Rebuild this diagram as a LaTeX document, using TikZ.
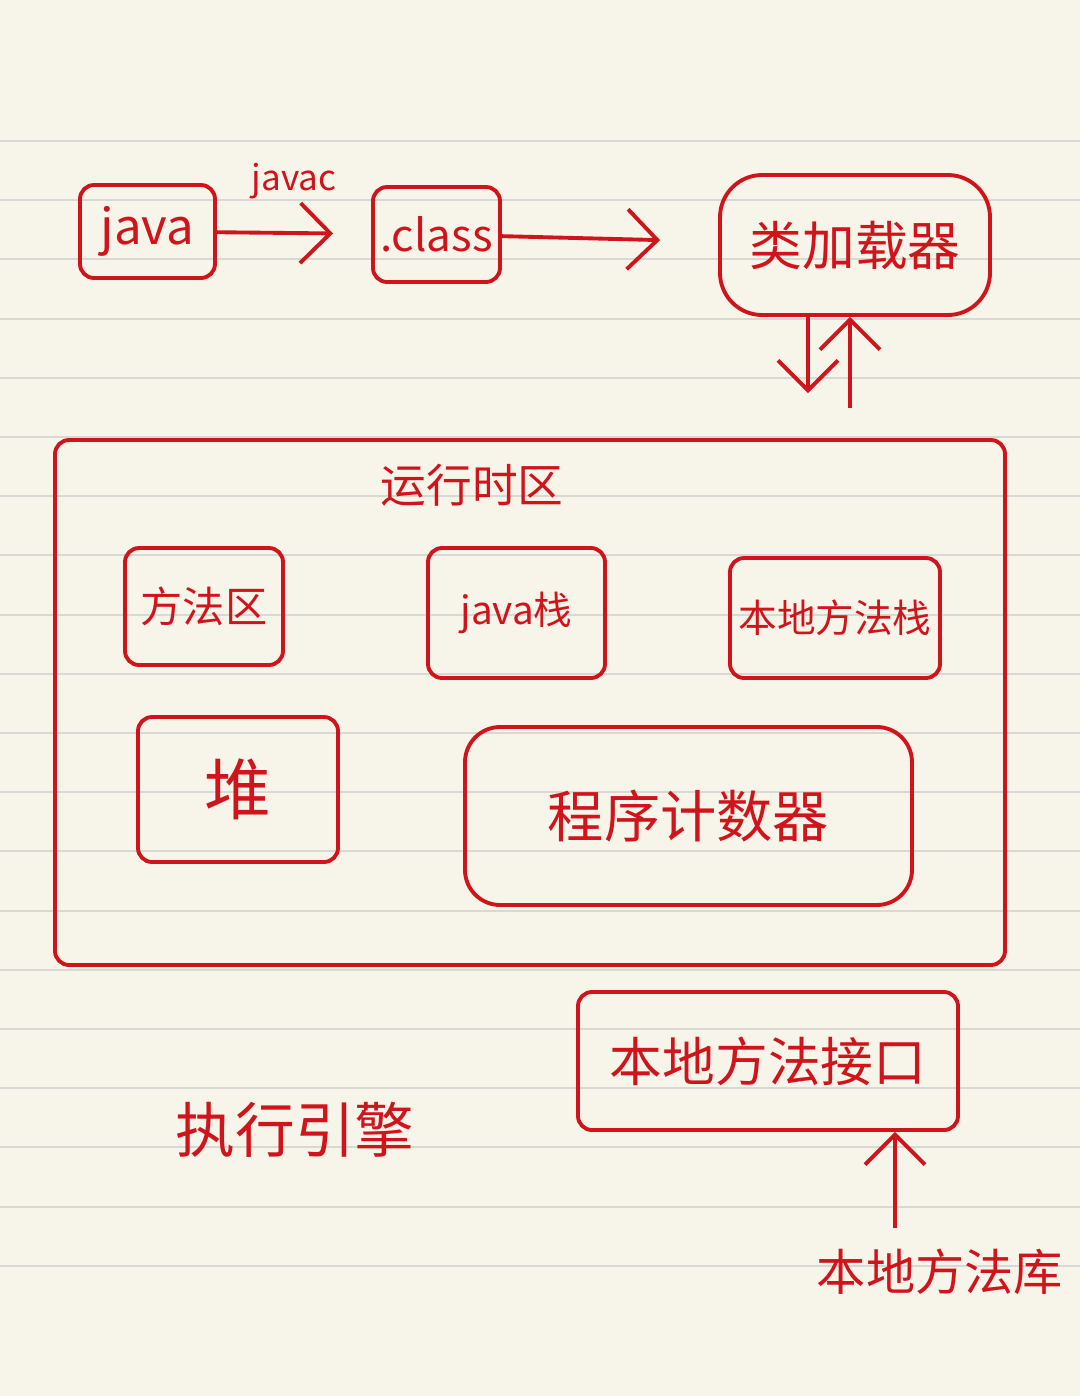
\documentclass[tikz,border=0pt]{standalone}
\usepackage{fontspec}
\setmainfont{Noto Sans CJK SC}
\usetikzlibrary{arrows.meta}

\definecolor{ink}{HTML}{D0141C}
\definecolor{paper}{HTML}{F7F4E9}
\definecolor{ruling}{HTML}{D8D8D4}

\begin{document}
\begin{tikzpicture}[
    box/.style={draw=ink,line width=1.1pt,rounded corners=4pt,text=ink,inner sep=0pt},
    txt/.style={text=ink,inner sep=0pt},
    flow/.style={draw=ink,line width=1.1pt,-{Straight Barb[length=3mm,width=6mm]}},
    fs/.style={font=\fontsize{#1}{#1}\selectfont}]
  \fill[paper] (0,0) rectangle (10.8,-13.96);
  \useasboundingbox (0,0) rectangle (10.8,-13.96);
  \foreach \k in {0,...,19}
    \draw[ruling,line width=0.6pt] (0,-1.41-0.592*\k) -- (10.8,-1.41-0.592*\k);

  \node[box,fs=14,minimum width=1.35cm,minimum height=0.93cm] (java) at (1.475,-2.315) {java};
  \node[box,fs=12.5,minimum width=1.27cm,minimum height=0.95cm] (class) at (4.365,-2.345) {.class};
  \node[box,fs=15,minimum width=2.7cm,minimum height=1.4cm,rounded corners=12pt] (loader) at (8.55,-2.45) {类加载器};

  \node[box,minimum width=9.5cm,minimum height=5.25cm] (runtime) at (5.30,-7.025) {};
  \node[txt,fs=13] (rtlabel) at (4.72,-4.85) {运行时区};
  \node[box,fs=12,minimum width=1.58cm,minimum height=1.17cm] (method) at (2.04,-6.065) {方法区};
  \node[box,fs=11,minimum width=1.77cm,minimum height=1.3cm] (jstack) at (5.165,-6.13) {java栈};
  \node[box,fs=11,minimum width=2.1cm,minimum height=1.2cm] (nstack) at (8.35,-6.18) {本地方法栈};
  \node[box,fs=19,minimum width=2.0cm,minimum height=1.45cm] (heap) at (2.38,-7.895) {堆};
  \node[box,fs=16,minimum width=4.47cm,minimum height=1.78cm,rounded corners=10pt] (pc) at (6.885,-8.16) {程序计数器};

  \node[box,fs=15,minimum width=3.8cm,minimum height=1.38cm] (nif) at (7.68,-10.61) {本地方法接口};
  \node[txt,fs=17] (engine) at (2.95,-11.3) {执行引擎};
  \node[txt,fs=14] (nlib) at (9.4,-12.72) {本地方法库};

  \draw[flow,shorten >=0.38cm] (java) -- node[midway,above=9pt,txt,fs=10] {javac} (class);
  \draw[flow,shorten >=0.58cm] (class) -- (loader);
  \coordinate (ldown) at ([xshift=-4.7mm]loader.south);
  \coordinate (lup) at ([xshift=-0.5mm]loader.south);
  \draw[flow,shorten >=0.45cm] (ldown) -- (ldown |- runtime.north);
  \draw[flow,shorten <=0.3cm] (lup |- runtime.north) -- (lup);
  \coordinate (libup) at ([xshift=-4.5mm]nlib.north);
  \draw[flow,shorten <=0.2cm] (libup) -- (libup |- nif.south);
\end{tikzpicture}
\end{document}
